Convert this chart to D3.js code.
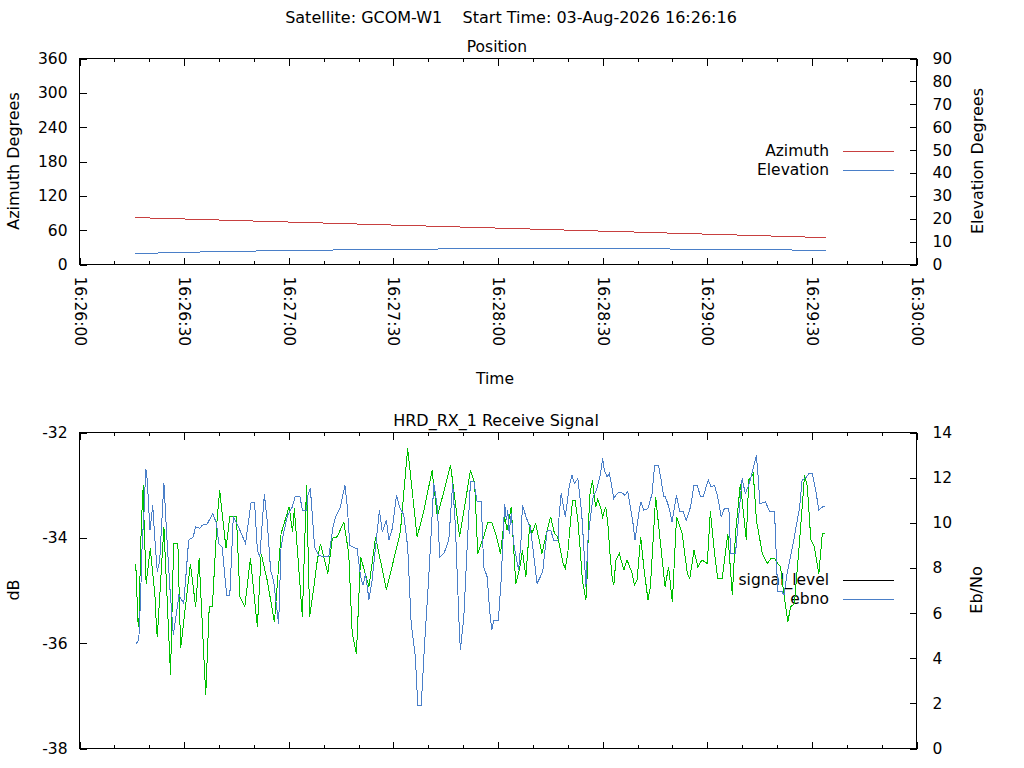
<!DOCTYPE html>
<html>
<head>
<meta charset="utf-8">
<script src="https://cdn.jsdelivr.net/npm/d3@7"></script>
<style>
  body { margin: 0; background: #fff; }
  text { font-family: "DejaVu Sans", sans-serif; fill: #000; }
</style>
</head>
<body>
<div id="chart"></div>
<script>
// pass data, times are seconds after 16:26:00
const azimuth = [[16,82],[26,80.2],[36,78.5],[46,76.7],[56,74.9],[66,73.2],[76,71.4],[86,69.6],[96,67.9],[106,66.1],
  [116,64.3],[126,62.6],[136,60.8],[146,59.0],[156,57.3],[166,55.5],[176,53.7],[186,52.0],[196,50.2],[206,48.4],[214,47.0]]
const elevation = [[16,4.7],[26,5.2],[36,5.5],[46,5.8],[56,6.0],[66,6.2],[76,6.4],[86,6.6],[96,6.7],[106,6.8],
  [116,6.85],[126,6.9],[136,6.95],[146,6.95],[156,6.9],[166,6.8],[176,6.7],[186,6.6],[196,6.5],[206,6.3],[214,6.1]]

// receive signal level (dB) and Eb/No
const signalLevel = [[16.1,-34.49],[16.3,-34.74],[16.7,-35.56],[17.0,-35.69],[17.6,-34.04],[18.0,-33.35],[18.3,-33.0],
  [18.5,-33.67],[19.1,-34.87],[20.3,-34.2],[21.0,-34.68],[21.6,-35.06],[22.1,-35.75],[22.3,-35.88],[23.0,-35.12],
  [24.2,-33.79],[26.1,-36.6],[27.0,-34.1],[28.2,-34.1],[29.0,-36.1],[31.8,-34.49],[33.3,-35.31],[34.3,-34.39],
  [36.2,-36.99],[37.2,-35.31],[38.1,-35.31],[39.5,-33.6],[40.2,-33.1],[42.0,-34.2],[43.1,-33.6],[45.0,-33.6],
  [46.0,-35.12],[47.4,-35.31],[49.0,-34.39],[51.0,-35.69],[52.1,-34.3],[53.8,-34.8],[55.9,-35.6],[57.8,-33.92],
  [60.1,-33.41],[61.1,-33.89],[61.6,-33.44],[63.9,-35.5],[65.1,-33.0],[66.0,-35.5],[67.2,-34.93],[68.2,-34.42],
  [69.1,-34.11],[71.2,-34.68],[72.5,-34.01],[73.9,-33.98],[75.8,-33.7],[77.2,-34.3],[78.2,-35.82],[79.4,-36.2],
  [80.6,-34.36],[83.0,-34.93],[84.9,-33.98],[88.0,-34.99],[92.0,-33.89],[94.1,-32.3],[96.8,-33.98],[98.7,-33.5],
  [101.1,-32.72],[102.6,-33.6],[106.4,-32.62],[109.0,-33.98],[112.1,-32.72],[113.3,-32.96],[114.2,-34.3],
  [115.9,-33.98],[117.1,-33.7],[118.2,-33.7],[119.6,-33.98],[120.7,-34.3],[121.9,-33.6],[122.6,-33.85],
  [123.8,-33.41],[125.1,-34.87],[126.3,-34.55],[127.0,-34.24],[128.0,-34.74],[129.1,-33.73],[129.7,-33.92],
  [130.8,-33.73],[131.8,-34.04],[132.6,-34.3],[134.1,-33.85],[135.1,-33.6],[136.2,-33.92],[137.1,-33.98],
  [138.7,-34.49],[139.3,-34.58],[140.0,-34.3],[140.8,-33.67],[141.4,-33.29],[142.1,-33.29],[142.9,-33.67],
  [143.5,-34.17],[144.2,-34.8],[145.2,-35.18],[145.6,-34.68],[145.9,-33.85],[146.3,-33.19],[147.1,-32.91],
  [147.5,-33.16],[148.0,-33.42],[148.6,-33.26],[149.4,-33.42],[150.0,-33.6],[150.9,-33.41],[151.5,-33.73],
  [152.1,-34.3],[152.8,-34.8],[153.2,-34.9],[153.8,-34.42],[154.8,-34.3],[155.3,-34.42],[156.1,-34.61],
  [157.0,-34.42],[158.5,-34.68],[159.1,-34.9],[159.9,-34.8],[160.9,-33.98],[161.8,-34.55],[163.0,-35.18],
  [163.7,-34.93],[165.2,-33.22],[167.9,-34.93],[168.9,-34.55],[170.0,-35.22],[171.2,-33.6],[172.8,-33.92],
  [174.3,-34.68],[175.0,-34.77],[176.2,-34.24],[177.3,-34.55],[178.5,-34.42],[180.0,-34.49],[180.9,-33.5],
  [182.1,-34.3],[183.0,-34.77],[184.3,-34.77],[185.9,-33.92],[187.2,-35.09],[188.1,-33.92],[189.5,-32.97],
  [191.2,-34.04],[191.9,-32.9],[193.2,-32.78],[194.1,-33.67],[195.8,-34.3],[197.2,-34.49],[198.3,-34.39],
  [199.3,-34.39],[200.2,-34.49],[201.0,-34.55],[202.2,-35.18],[203.1,-35.6],[203.9,-35.31],[205.0,-35.25],
  [206.5,-34.04],[207.9,-32.81],[208.7,-33.03],[209.7,-34.04],[210.7,-34.17],[212.0,-34.68],[213.0,-33.92],
  [213.9,-33.92]]

const ebno = [[16.1,4.61],[17.0,4.80],[17.5,6.64],[18.0,9.23],[18.4,10.11],[19.0,12.40],[19.4,11.96],[20.2,9.67],
  [21.0,10.78],[21.5,9.53],[22.3,7.82],[23.0,8.34],[24.2,11.77],[25.1,9.23],[25.9,7.16],[26.9,5.02],[27.5,5.68],
  [28.5,6.79],[29.9,6.42],[31.3,9.23],[32.6,9.37],[33.3,9.82],[34.5,9.75],[35.2,9.89],[36.6,9.94],[38.2,10.41],
  [39.3,9.97],[39.9,9.08],[40.9,8.93],[42.2,6.79],[43.1,6.79],[44.1,10.26],[45.4,9.89],[47.6,9.08],[49.2,10.90],
  [50.2,10.90],[51.0,8.79],[51.7,8.49],[53.0,11.27],[53.8,10.11],[54.8,7.90],[55.7,7.38],[57.1,5.51],[57.8,8.93],
  [58.6,9.60],[59.7,10.34],[61.0,10.70],[61.9,11.18],[63.2,11.18],[63.9,10.56],[65.1,10.56],[65.5,11.22],
  [66.2,11.52],[67.4,8.93],[68.6,8.56],[69.9,8.49],[71.5,8.52],[72.7,9.82],[73.4,10.26],[74.8,10.70],[76.1,11.66],
  [76.8,10.70],[77.5,9.01],[78.7,8.90],[79.6,8.86],[80.6,7.60],[81.3,7.23],[82.0,7.75],[83.0,6.60],[83.9,7.46],
  [85.2,9.37],[86.0,10.56],[86.8,9.60],[88.0,10.11],[88.7,9.23],[89.7,9.75],[90.9,11.22],[91.8,10.70],[93.0,10.34],
  [94.1,8.93],[95.1,5.54],[96.3,4.06],[97.0,1.92],[98.0,1.92],[98.9,4.50],[100.2,7.75],[101.6,11.74],[102.6,10.70],
  [103.3,8.49],[104.5,8.64],[105.9,9.23],[107.0,11.74],[107.8,9.82],[108.8,5.68],[109.2,4.35],[110.2,5.83],
  [111.2,9.08],[112.1,11.81],[113.1,11.81],[114.0,10.93],[115.2,10.93],[115.9,8.05],[116.9,7.60],[117.6,6.13],
  [118.2,5.24],[118.8,5.68],[120.1,5.68],[120.9,7.46],[121.9,10.85],[122.4,10.11],[122.8,10.56],[123.2,9.52],
  [123.8,10.41],[124.5,9.08],[125.9,7.90],[126.6,9.23],[127.0,10.78],[128.2,10.19],[129.3,9.75],[130.3,8.49],
  [131.2,7.31],[132.8,7.82],[134.1,9.67],[135.1,9.67],[136.0,9.23],[137.2,9.23],[137.5,10.26],[138.1,11.30],
  [139.3,10.26],[139.8,10.85],[140.4,11.59],[141.2,12.11],[141.9,11.74],[142.9,11.96],[144.0,10.41],[144.6,8.93],
  [145.2,7.16],[145.8,9.23],[146.5,10.26],[147.3,11.15],[148.2,11.44],[149.4,12.18],[150.0,12.85],[150.5,12.33],
  [151.3,12.03],[151.9,12.18],[152.5,11.74],[153.2,11.08],[154.2,11.30],[155.3,11.37],[156.3,11.22],[157.2,11.37],
  [157.8,10.85],[158.6,10.11],[159.3,9.23],[159.9,9.89],[160.5,10.56],[161.0,10.93],[161.8,10.56],[163.0,10.63],
  [164.2,11.30],[164.9,12.55],[166.0,12.55],[166.8,11.89],[167.5,11.15],[168.0,11.15],[169.0,10.70],[169.9,10.04],
  [171.2,11.22],[172.1,10.48],[173.1,10.48],[174.0,10.11],[175.2,10.70],[176.2,11.66],[177.1,11.66],[178.1,11.15],
  [178.8,11.15],[180.3,11.89],[181.1,11.59],[182.1,11.66],[183.0,11.15],[184.0,10.26],[184.9,10.63],[186.2,10.63],
  [186.7,8.64],[188.1,8.64],[189.0,10.26],[190.0,11.96],[190.9,11.30],[191.9,11.66],[192.9,12.25],[194.1,12.99],
  [194.6,12.03],[195.1,10.85],[196.7,10.93],[197.9,10.48],[199.3,10.48],[200.2,6.94],[201.5,6.94],[202.0,6.79],
  [202.9,7.75],[204.8,9.23],[206.5,10.70],[207.2,11.89],[208.5,12.03],[209.1,12.18],[210.1,12.18],[211.1,11.44],
  [212.0,10.56],[213.0,10.70],[213.9,10.70]]

// tick labels
const azTicks = [0, 60, 120, 180, 240, 300, 360]
const elTicks = [0, 10, 20, 30, 40, 50, 60, 70, 80, 90]
const dbTicks = [-38, -36, -34, -32]
const ebTicks = [0, 2, 4, 6, 8, 10, 12, 14]

const w = 1024
const h = 768
const fs = 15.5   // tick and legend text
const ls = 16     // titles and axis labels
const red = "#c84040", blue = "#4a7fc8", green = "#00c000"

const svg = d3.select("#chart")
  .append("svg")
    .attr("width", w)
    .attr("height", h)

const t0 = new Date(2026, 7, 3, 16, 26, 0)
const at = s => new Date(t0.getTime() + s * 1000)
const plain = d => String(d)   // keep ascii hyphen for negatives

const x = d3.scaleTime().domain([t0, at(240)]).range([79.5, 916.5])

const pos = { top: 58.5, bottom: 264.5 }
const sig = { top: 432.5, bottom: 748.5 }

const yAz = d3.scaleLinear().domain([0, 360]).range([pos.bottom, pos.top])
const yEl = d3.scaleLinear().domain([0, 90]).range([pos.bottom, pos.top])
const yDb = d3.scaleLinear().domain([-38, -32]).range([sig.bottom, sig.top])
const yEb = d3.scaleLinear().domain([0, 14]).range([sig.bottom, sig.top])

// axis styling helper
function style(g) {
  g.attr("font-family", "DejaVu Sans").attr("font-size", fs).attr("color", "#000")
  g.select(".domain").remove()
  g.selectAll("line").attr("shape-rendering", "crispEdges")
}

// x tick marks on both borders (major 30s, minor 10s), pointing inward
function xTicks(p) {
  const minor = d3.timeSecond.every(10), major = d3.timeSecond.every(30)
  svg.append("g").attr("transform", `translate(0,${p.bottom})`)
    .call(d3.axisBottom(x).ticks(minor).tickSize(-3.5).tickFormat("")).call(style)
  svg.append("g").attr("transform", `translate(0,${p.bottom})`)
    .call(d3.axisBottom(x).ticks(major).tickSize(-7).tickFormat("")).call(style)
  svg.append("g").attr("transform", `translate(0,${p.top})`)
    .call(d3.axisTop(x).ticks(minor).tickSize(-3.5).tickFormat("")).call(style)
  svg.append("g").attr("transform", `translate(0,${p.top})`)
    .call(d3.axisTop(x).ticks(major).tickSize(-7).tickFormat("")).call(style)
}

function frame(p) {
  svg.append("rect")
    .attr("x", x.range()[0]).attr("y", p.top)
    .attr("width", x.range()[1] - x.range()[0]).attr("height", p.bottom - p.top)
    .attr("fill", "none").attr("stroke", "#000").attr("shape-rendering", "crispEdges")
}

function legend(y0, items) {
  items.forEach((it, i) => {
    const yy = y0 + i * 19
    svg.append("text").attr("x", 829).attr("y", yy).attr("dy", "0.35em")
      .attr("text-anchor", "end").attr("font-size", fs).text(it[0])
    svg.append("line").attr("x1", 843).attr("x2", 894).attr("y1", yy).attr("y2", yy)
      .attr("stroke", it[1]).attr("shape-rendering", "crispEdges")
  })
}

function vlabel(txt, cx, cy) {
  svg.append("text").attr("transform", `translate(${cx},${cy}) rotate(-90)`)
    .attr("text-anchor", "middle").attr("dy", "0.35em").attr("font-size", ls).text(txt)
}

// title
svg.append("text").attr("x", 511).attr("y", 23).attr("text-anchor", "middle")
  .attr("font-size", ls).style("white-space", "pre")
  .text("Satellite: GCOM-W1    Start Time: 03-Aug-2026 16:26:16")

// ---- Position panel
svg.append("text").attr("x", 497).attr("y", 51.5).attr("text-anchor", "middle")
  .attr("font-size", fs).text("Position")

svg.append("g").attr("transform", `translate(${x.range()[0]},0)`)
  .call(d3.axisLeft(yAz).tickValues(azTicks).tickFormat(plain).tickSize(-7).tickPadding(12)).call(style)
svg.append("g").attr("transform", `translate(${x.range()[1]},0)`)
  .call(d3.axisRight(yEl).tickValues(elTicks).tickFormat(plain).tickSize(-7).tickPadding(16)).call(style)
xTicks(pos)

// rotated time labels under the top panel
svg.append("g").attr("transform", `translate(0,${pos.bottom})`)
  .call(d3.axisBottom(x).ticks(d3.timeSecond.every(30)).tickSize(0).tickFormat(d3.timeFormat("%H:%M:%S")))
  .call(style)
  .selectAll("text")
    .attr("x", 12).attr("y", 0).attr("dy", "0.35em")
    .attr("transform", "rotate(90)")
    .style("text-anchor", "start")

vlabel("Azimuth Degrees", 13, 161)
vlabel("Elevation Degrees", 977, 161)
svg.append("text").attr("x", 495).attr("y", 384).attr("text-anchor", "middle")
  .attr("font-size", fs).text("Time")

legend(151, [["Azimuth", red], ["Elevation", blue]])

const lineAz = d3.line().x(d => x(at(d[0]))).y(d => yAz(d[1]))
const lineEl = d3.line().x(d => x(at(d[0]))).y(d => yEl(d[1]))

svg.append("path").datum(azimuth).attr("d", lineAz)
  .attr("fill", "none").attr("stroke", red).attr("shape-rendering", "crispEdges")
svg.append("path").datum(elevation).attr("d", lineEl)
  .attr("fill", "none").attr("stroke", blue).attr("shape-rendering", "crispEdges")

frame(pos)

// ---- Receive signal panel
svg.append("text").attr("x", 496).attr("y", 425.5).attr("text-anchor", "middle")
  .attr("font-size", ls).text("HRD_RX_1 Receive Signal")

svg.append("g").attr("transform", `translate(${x.range()[0]},0)`)
  .call(d3.axisLeft(yDb).tickValues(dbTicks).tickFormat(plain).tickSize(-7).tickPadding(12)).call(style)
svg.append("g").attr("transform", `translate(${x.range()[1]},0)`)
  .call(d3.axisRight(yEb).tickValues(ebTicks).tickFormat(plain).tickSize(-7).tickPadding(16)).call(style)
xTicks(sig)

vlabel("dB", 13, 590)
vlabel("Eb/No", 976, 590)

legend(580, [["signal_level", "#000"], ["ebno", blue]])

const lineDb = d3.line().x(d => x(at(d[0]))).y(d => yDb(d[1]))
const lineEb = d3.line().x(d => x(at(d[0]))).y(d => yEb(d[1]))

svg.append("path").datum(signalLevel).attr("d", lineDb)
  .attr("fill", "none").attr("stroke", green).attr("shape-rendering", "crispEdges")
svg.append("path").datum(ebno).attr("d", lineEb)
  .attr("fill", "none").attr("stroke", blue).attr("shape-rendering", "crispEdges")

frame(sig)
</script>
</body>
</html>
